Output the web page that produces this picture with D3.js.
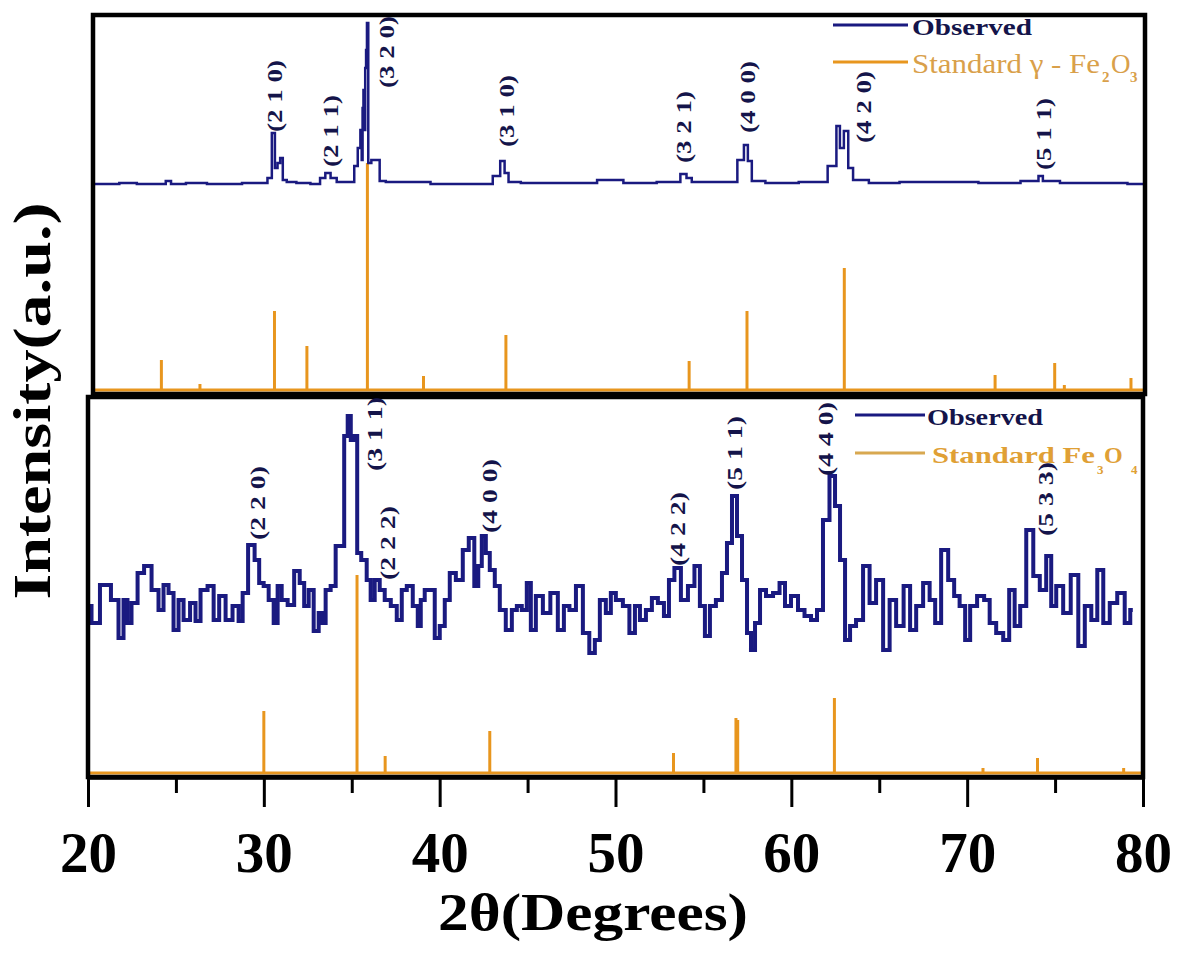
<!DOCTYPE html>
<html>
<head>
<meta charset="utf-8">
<script src="https://cdn.jsdelivr.net/npm/d3@7"></script>
<style>
  body { margin: 0; background: #fff; }
  svg text { font-family: "Liberation Serif", "Times New Roman", serif; }
</style>
</head>
<body>
<div id="chart"></div>
<script>
// top panel: gamma-Fe2O3, observed pattern (2theta, intensity a.u.)
const topTheta = [20.0,21.0,22.0,23.0,24.0,24.3,24.6,26.0,27.0,28.0,29.0,29.8,30.1,30.3,30.45,30.6,30.75,30.9,31.2,32.0,32.8,33.1,33.4,33.7,34.1,34.8,35.0,35.2,35.3,35.35,35.4,35.45,35.5,35.55,35.6,35.65,35.75,36.0,36.3,36.4,37.0,38.5,40.0,42.5,43.1,43.35,43.6,43.8,45.0,48.0,49.5,51.0,53.3,53.7,54.0,54.3,56.5,57.0,57.25,57.45,57.7,59.0,61.5,62.3,62.5,62.7,62.95,63.2,63.5,65.0,67.0,69.0,72.0,73.8,74.05,74.3,76.0,78.0,80.0];
const topObs = [206,206,207,206,206,209,206,207,206,206,207,207,212,257,222,227,232,210,208,207,206,212,217,212,208,208,224,242,260,230,282,300,260,322,340,367,227,230,230,209,208,208,206,206,214,229,217,208,207,207,210,207,208,216,212,208,208,230,245,229,209,207,208,224,264,242,259,222,210,207,208,208,207,209,214,209,207,207,206];

// top panel: standard gamma-Fe2O3 reference lines
const topStdTheta = [23.9,26.1,30.35,32.2,35.65,38.85,43.55,54.0,57.3,62.85,71.45,74.85,75.4,79.2];
const topStdInt = [30,6,79,44,227,14,55,29,79,122,15,27,5,12];

// bottom panel: Fe3O4, observed pattern
const botTheta = [20.06,20.34,21.02,21.59,21.88,22.16,22.33,22.62,23.02,23.36,23.87,24.15,24.44,24.72,25.01,25.29,25.58,26.03,26.2,26.6,27.0,27.29,27.63,28.02,28.42,28.71,28.88,29.33,29.62,29.85,30.13,30.42,30.7,30.87,31.16,31.55,31.9,32.18,32.41,32.69,32.98,33.26,33.43,33.6,34.0,34.17,34.46,34.68,34.86,35.03,35.25,35.37,35.71,35.99,36.16,36.45,36.73,37.02,37.42,37.7,37.99,38.27,38.67,38.84,39.01,39.29,39.58,39.86,40.15,40.43,40.72,41.12,41.51,41.8,42.14,42.25,42.54,42.71,42.99,43.28,43.56,43.96,44.25,44.53,44.81,45.1,45.27,45.67,46.07,46.52,46.92,47.21,47.55,47.95,48.34,48.68,48.97,49.25,49.65,49.82,50.22,50.62,50.96,51.25,51.53,51.93,52.21,52.61,52.9,53.18,53.52,53.92,54.32,54.66,54.94,55.23,55.51,55.91,56.2,56.48,56.77,57.05,57.34,57.62,57.79,58.08,58.36,58.76,59.16,59.5,59.78,60.18,60.58,60.92,61.32,61.6,62.0,62.34,62.63,62.91,63.2,63.48,63.88,64.28,64.62,65.02,65.42,65.76,66.16,66.61,66.9,67.3,67.69,68.04,68.32,68.72,69.12,69.4,69.74,70.03,70.31,70.82,71.11,71.45,71.85,72.25,72.53,72.87,73.16,73.56,73.96,74.3,74.69,74.87,75.26,75.66,76.12,76.52,76.86,77.26,77.54,77.94,78.28,78.79,79.13,79.42];
const botObs = [167,150,188,173,135,173,150,170,200,207,183,163,188,180,143,173,153,170,152,183,187,153,177,153,167,152,180,228,213,190,187,173,150,187,173,168,202,190,167,183,142,160,150,183,187,227,227,337,357,333,337,220,213,193,173,193,183,173,167,153,183,187,167,147,173,183,183,135,147,173,200,193,223,235,187,207,237,220,203,187,163,143,163,167,163,190,143,177,160,180,143,167,163,187,140,120,133,173,160,180,173,167,140,167,153,163,175,170,157,193,205,173,187,207,167,137,167,173,200,230,277,237,193,140,123,150,183,177,180,190,167,177,163,157,153,163,253,297,267,213,133,147,153,207,170,193,123,173,147,187,143,167,190,173,150,223,193,177,167,133,167,177,173,150,140,133,183,147,167,243,197,183,217,167,187,160,198,127,167,153,203,150,170,180,150,163];

// bottom panel: standard Fe3O4 reference lines
const botStdTheta = [30.0,35.3,36.9,42.85,53.3,56.85,56.95,62.45,70.9,74.0,78.9];
const botStdInt = [62,198,17,42,20,55,53,75,5,15,5];

// Miller index labels
const topLabels = ["(2 1 0)","(2 1 1)","(3 2 0)","(3 1 0)","(3 2 1)","(4 0 0)","(4 2 0)","(5 1 1)"];
const topLabelTheta = [30.36,33.55,36.73,43.56,53.64,57.34,63.94,74.18];
const topLabelInt = [258,223,302,243,227,257,247,220];
const botLabels = ["(2 2 0)","(3 1 1)","(2 2 2)","(4 0 0)","(4 2 2)","(5 1 1)","(4 4 0)","(5 3 3)"];
const botLabelTheta = [29.62,36.28,37.02,42.82,53.52,56.77,61.95,74.47];
const botLabelInt = [233,302,193,240,207,283,297,237];

const xMajor = [20,30,40,50,60,70,80];
const xMinor = [25,35,45,55,65,75];

const navy = "#1a1a80";
const orange = "#e8961e";

function xrdChart() {
  d3.select("#chart").select("svg").remove();

  const svg = d3.select("#chart")
      .append("svg")
      .attr("width", 1177)
      .attr("height", 953);

  // scales: the two panels were stacked slightly out of line
  const xTop = d3.scaleLinear().domain([20, 80]).range([93, 1145]);
  const xBot = d3.scaleLinear().domain([20, 80]).range([88, 1143]);
  const yTop = d3.scaleLinear().domain([0, 377]).range([390, 13]);
  const yBot = d3.scaleLinear().domain([0, 378]).range([773, 395]);

  // standard sticks
  svg.append("g").selectAll("line")
      .data(topStdTheta)
      .join("line")
      .attr("x1", d => xTop(d)).attr("x2", d => xTop(d))
      .attr("y1", yTop(0))
      .attr("y2", (d, i) => yTop(topStdInt[i]))
      .attr("stroke", orange).attr("stroke-width", 3);

  svg.append("g").selectAll("line")
      .data(botStdTheta)
      .join("line")
      .attr("x1", d => xBot(d)).attr("x2", d => xBot(d))
      .attr("y1", yBot(0))
      .attr("y2", (d, i) => yBot(botStdInt[i]))
      .attr("stroke", orange).attr("stroke-width", 3);

  // orange baselines of the stick patterns
  svg.append("line")
      .attr("x1", xTop(20)).attr("x2", xTop(80))
      .attr("y1", yTop(0)).attr("y2", yTop(0))
      .attr("stroke", orange).attr("stroke-width", 3);
  svg.append("line")
      .attr("x1", xBot(20)).attr("x2", xBot(80))
      .attr("y1", yBot(0)).attr("y2", yBot(0))
      .attr("stroke", orange).attr("stroke-width", 3);

  // observed patterns
  const lineTop = d3.line()
      .x((d, i) => xTop(topTheta[i]))
      .y(d => yTop(d))
      .curve(d3.curveStep);
  svg.append("path")
      .datum(topObs)
      .attr("d", lineTop)
      .attr("fill", "none")
      .attr("stroke", navy)
      .attr("stroke-width", 2.5);

  const lineBot = d3.line()
      .x((d, i) => xBot(botTheta[i]))
      .y(d => yBot(d))
      .curve(d3.curveStep);
  svg.append("path")
      .datum(botObs)
      .attr("d", lineBot)
      .attr("fill", "none")
      .attr("stroke", navy)
      .attr("stroke-width", 4);

  // frames
  svg.append("rect")
      .attr("x", xTop(20)).attr("y", 15)
      .attr("width", xTop(80) - xTop(20)).attr("height", 379)
      .attr("fill", "none").attr("stroke", "#000").attr("stroke-width", 4.5);
  svg.append("rect")
      .attr("x", xBot(20)).attr("y", 397)
      .attr("width", xBot(80) - xBot(20)).attr("height", 380)
      .attr("fill", "none").attr("stroke", "#000").attr("stroke-width", 4.5);

  // x axis, major and minor ticks
  const axisG = svg.append("g")
      .attr("transform", "translate(0,777)")
      .call(d3.axisBottom(xBot).tickValues(xMajor).tickSize(30).tickSizeOuter(0).tickPadding(25).tickFormat(d3.format("d")));
  axisG.select(".domain").attr("stroke-width", 4.5);
  axisG.selectAll(".tick line").attr("stroke-width", 3);
  axisG.selectAll(".tick text")
      .attr("font-size", 57).attr("font-weight", "bold").attr("fill", "#000")
      .style("font-family", "'Liberation Serif', serif");

  const minorG = svg.append("g")
      .attr("transform", "translate(0,777)")
      .call(d3.axisBottom(xBot).tickValues(xMinor).tickSize(16).tickFormat(""));
  minorG.select(".domain").remove();
  minorG.selectAll(".tick line").attr("stroke-width", 3);

  // axis titles
  svg.append("text")
      .attr("x", 593).attr("y", 930)
      .attr("text-anchor", "middle")
      .attr("font-size", 52).attr("font-weight", "bold")
      .attr("textLength", 310).attr("lengthAdjust", "spacingAndGlyphs")
      .text("2θ(Degrees)");

  svg.append("text")
      .attr("transform", "translate(50,401) rotate(-90)")
      .attr("text-anchor", "middle")
      .attr("font-size", 52).attr("font-weight", "bold")
      .attr("textLength", 397).attr("lengthAdjust", "spacingAndGlyphs")
      .text("Intensity(a.u.)");

  // peak labels
  svg.append("g").selectAll("text")
      .data(topLabels)
      .join("text")
      .attr("transform", (d, i) => `translate(${xTop(topLabelTheta[i])},${yTop(topLabelInt[i])}) rotate(-90)`)
      .attr("dy", "0.35em")
      .attr("font-size", 22).attr("font-weight", "bold").attr("fill", "#14144a")
      .attr("textLength", 72).attr("lengthAdjust", "spacingAndGlyphs")
      .text(d => d);

  svg.append("g").selectAll("text")
      .data(botLabels)
      .join("text")
      .attr("transform", (d, i) => `translate(${xBot(botLabelTheta[i])},${yBot(botLabelInt[i])}) rotate(-90)`)
      .attr("dy", "0.35em")
      .attr("font-size", 22).attr("font-weight", "bold").attr("fill", "#14144a")
      .attr("textLength", 74).attr("lengthAdjust", "spacingAndGlyphs")
      .text(d => d);

  // legend, top panel
  svg.append("line").attr("x1", 833).attr("x2", 908).attr("y1", 25).attr("y2", 25)
      .attr("stroke", navy).attr("stroke-width", 3);
  svg.append("text").attr("x", 912).attr("y", 35)
      .attr("font-size", 24).attr("font-weight", "bold").attr("fill", "#14144a")
      .attr("textLength", 120).attr("lengthAdjust", "spacingAndGlyphs")
      .text("Observed");
  svg.append("line").attr("x1", 833).attr("x2", 908).attr("y1", 62).attr("y2", 62)
      .attr("stroke", orange).attr("stroke-width", 3);
  const lt = svg.append("g").attr("fill", "#d9a04a");
  lt.append("text").attr("x", 912).attr("y", 73).attr("font-size", 27)
      .attr("textLength", 188).attr("lengthAdjust", "spacingAndGlyphs")
      .text("Standard γ - Fe");
  lt.append("text").attr("x", 1102).attr("y", 82).attr("font-size", 15).attr("font-weight", "bold").text("2");
  lt.append("text").attr("x", 1111).attr("y", 73).attr("font-size", 27).text("O");
  lt.append("text").attr("x", 1130).attr("y", 82).attr("font-size", 15).attr("font-weight", "bold").text("3");

  // legend, bottom panel
  svg.append("line").attr("x1", 855).attr("x2", 925).attr("y1", 415).attr("y2", 415)
      .attr("stroke", navy).attr("stroke-width", 3);
  svg.append("text").attr("x", 927).attr("y", 425)
      .attr("font-size", 24).attr("font-weight", "bold").attr("fill", "#14144a")
      .attr("textLength", 116).attr("lengthAdjust", "spacingAndGlyphs")
      .text("Observed");
  svg.append("line").attr("x1", 855).attr("x2", 925).attr("y1", 453).attr("y2", 453)
      .attr("stroke", "#d8a850").attr("stroke-width", 3);
  const lb = svg.append("g").attr("fill", "#e0a035").attr("font-weight", "bold");
  lb.append("text").attr("x", 932).attr("y", 463).attr("font-size", 24)
      .attr("textLength", 163).attr("lengthAdjust", "spacingAndGlyphs")
      .text("Standard Fe");
  lb.append("text").attr("x", 1097).attr("y", 474).attr("font-size", 13).text("3");
  lb.append("text").attr("x", 1104).attr("y", 463).attr("font-size", 24).text("O");
  lb.append("text").attr("x", 1131).attr("y", 474).attr("font-size", 13).text("4");
}

xrdChart();
</script>
</body>
</html>
